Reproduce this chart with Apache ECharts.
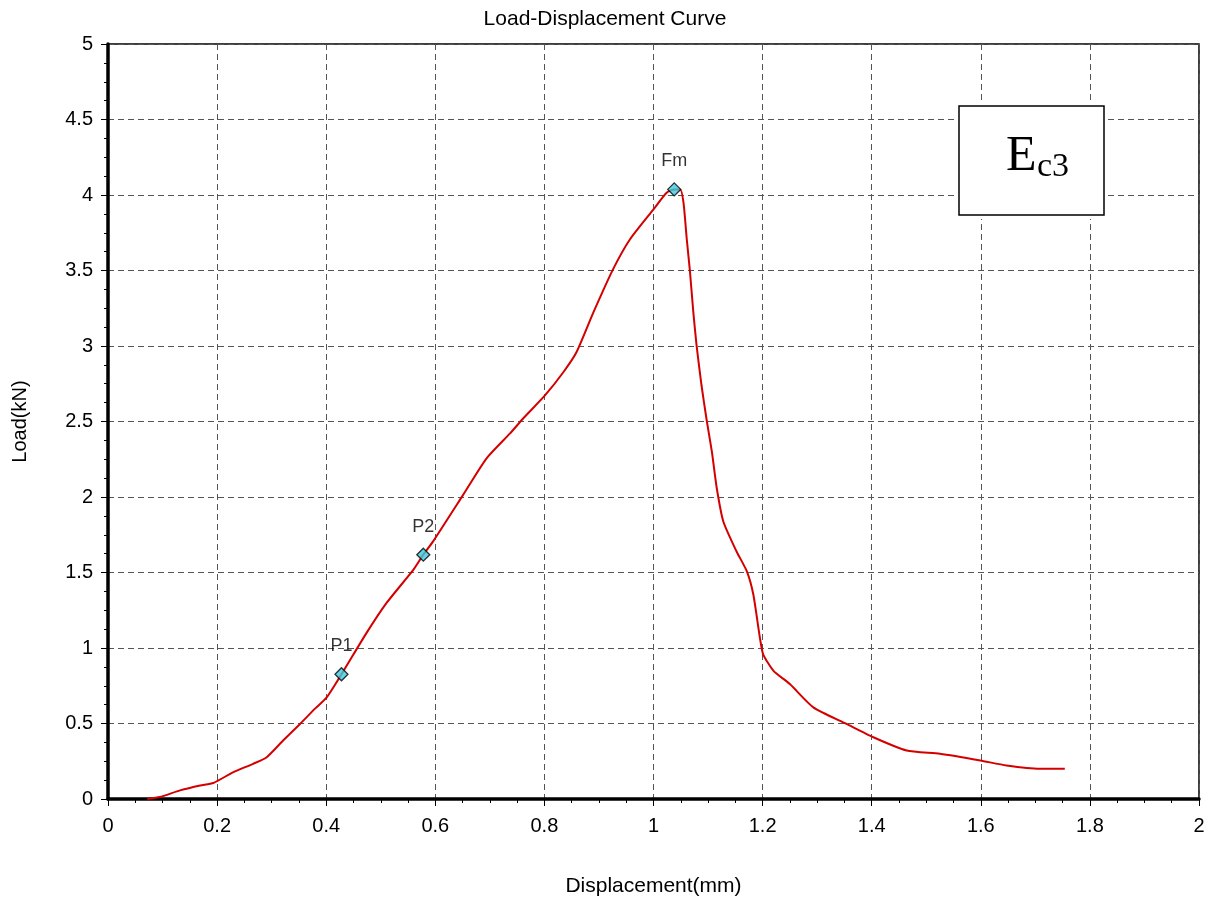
<!DOCTYPE html>
<html>
<head>
<meta charset="utf-8">
<script src="https://cdn.jsdelivr.net/npm/echarts@6/dist/echarts.min.js"></script>
<style>
html,body{margin:0;padding:0;background:#fff;}
#chart{width:1210px;height:902px;}
</style>
</head>
<body>
<div id="chart"></div>
<script>
// Displacement (mm) and Load (kN)
var dispData = [0.072, 0.095, 0.132, 0.169, 0.193, 0.23, 0.266, 0.291, 0.321, 0.352, 0.38, 0.401, 0.428, 0.474, 0.511, 0.56, 0.578, 0.596, 0.651, 0.694, 0.737, 0.761, 0.801, 0.835, 0.859, 0.89, 0.926, 0.957, 1.0, 1.024, 1.038, 1.049, 1.055, 1.061, 1.067, 1.073, 1.079, 1.088, 1.097, 1.107, 1.116, 1.128, 1.152, 1.171, 1.183, 1.195, 1.201, 1.22, 1.25, 1.293, 1.354, 1.403, 1.464, 1.525, 1.599, 1.647, 1.708, 1.754];
var loadData = [0, 0.013, 0.057, 0.09, 0.106, 0.178, 0.233, 0.277, 0.387, 0.497, 0.6, 0.673, 0.826, 1.10, 1.30, 1.519, 1.618, 1.706, 2.014, 2.256, 2.421, 2.52, 2.673, 2.828, 2.96, 3.224, 3.509, 3.707, 3.905, 4.015, 4.037, 4.037, 3.949, 3.707, 3.487, 3.224, 3.003, 2.74, 2.52, 2.3, 2.058, 1.838, 1.641, 1.509, 1.354, 1.069, 0.958, 0.849, 0.761, 0.607, 0.497, 0.409, 0.321, 0.299, 0.255, 0.222, 0.2, 0.2];
// Marked points
var markNames = ['P1', 'P2', 'Fm'];
var markDisp = [0.428, 0.578, 1.038];
var markLoad = [0.826, 1.618, 4.037];

var curve = dispData.map(function (x, i) { return [x, loadData[i]]; });
var marks = markNames.map(function (n, i) { return { name: n, value: [markDisp[i], markLoad[i]] }; });

var chart = echarts.init(document.getElementById('chart'));
var font = 'Liberation Sans, Arial, sans-serif';
chart.setOption({
  animation: false,
  backgroundColor: '#fff',
  title: {
    text: 'Load-Displacement Curve',
    left: 'center',
    top: 4,
    textStyle: { fontFamily: font, fontSize: 21, fontWeight: 'normal', color: '#000' }
  },
  grid: {
    left: 108, right: 11, top: 44, bottom: 100,
    show: true, borderColor: '#000', borderWidth: 1.5, backgroundColor: 'transparent'
  },
  xAxis: {
    type: 'value', min: 0, max: 2, interval: 0.2,
    name: 'Displacement(mm)', nameLocation: 'middle', nameGap: 77,
    nameTextStyle: { fontFamily: font, fontSize: 21, color: '#000' },
    axisLine: { show: true, onZero: false, lineStyle: { color: '#000', width: 3.5 } },
    axisTick: { show: true, length: 7, lineStyle: { color: '#000', width: 1 } },
    minorTick: { show: true, splitNumber: 4, length: 4, lineStyle: { color: '#000', width: 1 } },
    axisLabel: { fontFamily: font, fontSize: 20, color: '#000', margin: 17 },
    splitLine: { show: true, lineStyle: { color: '#555', type: [6, 4], width: 1 } }
  },
  yAxis: {
    type: 'value', min: 0, max: 5, interval: 0.5,
    name: 'Load(kN)', nameLocation: 'middle', nameGap: 78,
    nameTextStyle: { fontFamily: font, fontSize: 20, color: '#000' },
    axisLine: { show: true, onZero: false, lineStyle: { color: '#000', width: 3.5 } },
    axisTick: { show: true, length: 7, lineStyle: { color: '#000', width: 1 } },
    minorTick: { show: true, splitNumber: 4, length: 4, lineStyle: { color: '#000', width: 1 } },
    axisLabel: { fontFamily: font, fontSize: 20, color: '#000', margin: 15 },
    splitLine: { show: true, lineStyle: { color: '#555', type: [6, 4], width: 1 } }
  },
  series: [
    {
      type: 'line', data: curve, showSymbol: false, symbol: 'none',
      smooth: 0.2,
      lineStyle: { color: '#d40000', width: 2 }, z: 3
    },
    {
      type: 'scatter', data: marks, symbol: 'diamond', symbolSize: 13,
      itemStyle: { color: '#3ccbe0', borderColor: '#000', borderWidth: 1.3 },
      label: {
        show: true, position: 'top', distance: 12, formatter: '{b}',
        fontFamily: font, fontSize: 18, color: '#000'
      },
      z: 5
    }
  ],
  graphic: [
    { type: 'rect', shape: { x: 955, y: 102, width: 153, height: 117 }, style: { fill: '#fff' }, z: 10 },
    { type: 'rect', shape: { x: 959, y: 106, width: 145, height: 109 }, style: { fill: '#fff', stroke: '#000', lineWidth: 1.5 }, z: 11 },
    { type: 'text', x: 1006, y: 157, z: 12, style: { text: 'E', font: '50px "Liberation Serif", "Times New Roman", serif', fill: '#000', textAlign: 'left', textVerticalAlign: 'middle' } },
    { type: 'text', x: 1037, y: 167, z: 12, style: { text: 'c3', font: '34px "Liberation Serif", "Times New Roman", serif', fill: '#000', textAlign: 'left', textVerticalAlign: 'middle' } }
  ]
});
</script>
</body>
</html>
